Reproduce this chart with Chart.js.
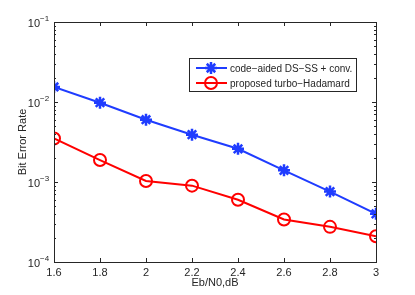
<!DOCTYPE html>
<html>
<head>
<meta charset="utf-8">
<script src="https://cdn.jsdelivr.net/npm/chart.js@4.4.1/dist/chart.umd.min.js"></script>
<style>
  html, body { margin: 0; padding: 0; background: #fff; }
  #wrap { width: 415px; height: 295px; }
</style>
</head>
<body>
<div id="wrap"><canvas id="ber-chart"></canvas></div>
<script>
const ebn0 = [1.6, 1.8, 2.0, 2.2, 2.4, 2.6, 2.8, 3.0];
const berConv = [0.0154, 0.0098, 0.0060, 0.0039, 0.0026, 0.0014, 0.00076, 0.00040];
const berTurbo = [0.0035, 0.00188, 0.00103, 0.00090, 0.00060, 0.00034, 0.000275, 0.00021];
const seriesNames = ['code\u2212aided DS\u2212SS + conv.', 'proposed turbo\u2212Hadamard'];
const yDecades = [-4, -3, -2, -1];

const FONT = '"Liberation Sans", Arial, sans-serif';

// box, inward ticks, y labels with exponents, legend
const matlabAxes = {
  id: 'matlabAxes',
  afterDraw(chart) {
    const ctx = chart.ctx;
    const a = chart.chartArea;
    const xs = chart.scales.x;
    const ys = chart.scales.y;
    ctx.save();
    ctx.strokeStyle = '#262626';
    ctx.lineWidth = 1;
    ctx.strokeRect(Math.round(a.left) + 0.5, Math.round(a.top) + 0.5,
      Math.round(a.right - a.left), Math.round(a.bottom - a.top));

    ctx.beginPath();
    ebn0.forEach((v) => {
      const px = Math.round(xs.getPixelForValue(v)) + 0.5;
      ctx.moveTo(px, a.bottom); ctx.lineTo(px, a.bottom - 4);
      ctx.moveTo(px, a.top); ctx.lineTo(px, a.top + 4);
    });
    yDecades.forEach((d, i) => {
      for (let m = 1; m <= 9; m++) {
        if (i === yDecades.length - 1 && m > 1) break;
        const py = Math.round(ys.getPixelForValue(m * Math.pow(10, d))) + 0.5;
        const len = m === 1 ? 4 : 2;
        ctx.moveTo(a.left, py); ctx.lineTo(a.left + len, py);
        ctx.moveTo(a.right, py); ctx.lineTo(a.right - len, py);
      }
    });
    ctx.stroke();

    // y tick labels 10^d
    ctx.fillStyle = '#262626';
    ctx.textBaseline = 'middle';
    yDecades.forEach((d) => {
      const py = ys.getPixelForValue(Math.pow(10, d));
      ctx.font = '11px ' + FONT;
      ctx.textAlign = 'right';
      ctx.fillText('10', a.left - 14, py + 2);
      ctx.font = '8px ' + FONT;
      ctx.textAlign = 'left';
      ctx.fillText('\u2212' + Math.abs(d), a.left - 14, py - 3);
    });

    // legend
    const lx = 189, ly = 58, lw = 167, lh = 33;
    ctx.fillStyle = '#fff';
    ctx.fillRect(lx, ly, lw, lh);
    ctx.strokeStyle = '#262626';
    ctx.lineWidth = 1;
    ctx.strokeRect(lx + 0.5, ly + 0.5, lw, lh);
    chart.data.datasets.forEach((ds, i) => {
      const y = ly + 10 + i * 15;
      ctx.strokeStyle = ds.borderColor;
      ctx.lineWidth = 2;
      ctx.beginPath();
      ctx.moveTo(lx + 7, y); ctx.lineTo(lx + 38, y);
      ctx.stroke();
      ctx.fillStyle = ds.backgroundColor;
      ctx.lineWidth = ds.pointBorderWidth;
      Chart.helpers.drawPoint(ctx, {
        pointStyle: ds.pointStyle, radius: ds.pointRadius, borderWidth: ds.pointBorderWidth
      }, lx + 22, y);
      ctx.fillStyle = '#262626';
      ctx.font = '10px ' + FONT;
      ctx.textAlign = 'left';
      ctx.textBaseline = 'middle';
      ctx.fillText(ds.label, lx + 41, y + 1);
    });
    ctx.restore();
  },
};

const berChart = new Chart(document.getElementById('ber-chart').getContext('2d'), {
  type: 'line',
  data: {
    datasets: [
      {
        label: seriesNames[0],
        data: ebn0.map((x, i) => ({ x: x, y: berConv[i] })),
        borderColor: '#1f3cff',
        backgroundColor: '#1f3cff',
        borderWidth: 2,
        pointStyle: 'star',
        pointRadius: 6,
        pointBorderWidth: 2.5,
        pointBorderColor: '#1f3cff',
      },
      {
        label: seriesNames[1],
        data: ebn0.map((x, i) => ({ x: x, y: berTurbo[i] })),
        borderColor: '#ff0000',
        backgroundColor: 'rgba(0,0,0,0)',
        borderWidth: 2,
        pointStyle: 'circle',
        pointRadius: 6,
        pointBorderWidth: 2,
        pointBorderColor: '#ff0000',
      },
    ],
  },
  options: {
    responsive: true,
    maintainAspectRatio: false,
    animation: false,
    layout: { padding: { left: 0, right: 39, top: 22, bottom: 0 } },
    plugins: { legend: { display: false }, tooltip: { enabled: false } },
    scales: {
      x: {
        type: 'linear',
        min: 1.6,
        max: 3,
        grid: { display: false, drawTicks: false },
        border: { display: false },
        ticks: {
          stepSize: 0.2,
          padding: 4,
          color: '#262626',
          font: { family: FONT, size: 11 },
          callback: (v) => String(Math.round(v * 10) / 10),
        },
        title: {
          display: true,
          text: 'Eb/N0,dB',
          color: '#262626',
          font: { family: FONT, size: 11 },
          padding: { top: 0, bottom: 5 },
        },
        afterFit: (scale) => { scale.height = 33; },
      },
      y: {
        type: 'logarithmic',
        min: 1e-4,
        max: 1e-1,
        grid: { display: false, drawTicks: false },
        border: { display: false },
        ticks: { display: false },
        title: {
          display: true,
          text: 'Bit Error Rate',
          color: '#262626',
          font: { family: FONT, size: 11 },
          padding: { top: 16, bottom: 0 },
        },
        afterFit: (scale) => { scale.width = 54; },
      },
    },
  },
  plugins: [matlabAxes],
});
</script>
</body>
</html>
